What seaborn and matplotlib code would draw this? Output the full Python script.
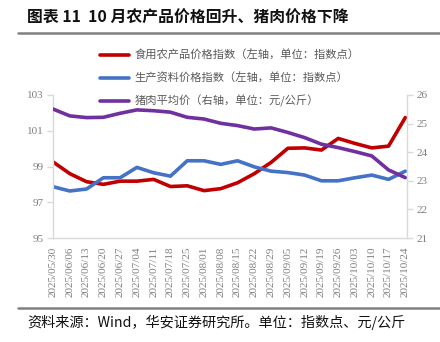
import matplotlib
matplotlib.use("Agg")
import matplotlib.pyplot as plt
from matplotlib.lines import Line2D
import seaborn as sns
import pandas as pd

dates = ["2025/05/30", "2025/06/06", "2025/06/13", "2025/06/20", "2025/06/27", "2025/07/04",
         "2025/07/11", "2025/07/18", "2025/07/25", "2025/08/01", "2025/08/08", "2025/08/15",
         "2025/08/22", "2025/08/29", "2025/09/05", "2025/09/12", "2025/09/19", "2025/09/26",
         "2025/10/03", "2025/10/10", "2025/10/17", "2025/10/24"]
food = [99.26, 98.6, 98.15, 98.0, 98.18, 98.18, 98.28, 97.88, 97.92, 97.65, 97.76, 98.09,
        98.6, 99.23, 100.02, 100.04, 99.92, 100.57, 100.29, 100.04, 100.14, 101.74]
means = [97.87, 97.63, 97.74, 98.37, 98.37, 98.95, 98.65, 98.46, 99.32, 99.32, 99.12, 99.32,
         98.98, 98.74, 98.66, 98.52, 98.2, 98.2, 98.37, 98.52, 98.28, 98.74]
pork = [25.51, 25.27, 25.21, 25.22, 25.36, 25.48, 25.45, 25.4, 25.22, 25.16, 25.01, 24.93,
        24.81, 24.85, 24.69, 24.51, 24.28, 24.16, 24.02, 23.87, 23.38, 23.11]
labels = ["食用农产品价格指数（左轴，单位：指数点）",
          "生产资料价格指数（左轴，单位：指数点）",
          "猪肉平均价（右轴，单位：元/公斤）"]
left_ticks = [95, 97, 99, 101, 103]
right_ticks = [21, 22, 23, 24, 25, 26]

sns.set_theme(style="white")
plt.rcParams["font.family"] = ["Noto Sans CJK SC", "DejaVu Sans"]

df = pd.DataFrame({"x": range(len(dates)), "food": food, "means": means, "pork": pork})

RED, BLUE, PURPLE = "#C00000", "#4472C4", "#7030A0"
GRID = "#D9D9D9"
TXT = "#7F7F7F"
LW = 2.6

fig = plt.figure(figsize=(4.4, 3.42), dpi=100)
ax = fig.add_axes([53 / 440, 1 - 238 / 342, (407 - 53) / 440, (238 - 95) / 342])
ax2 = ax.twinx()

sns.lineplot(data=df, x="x", y="food", ax=ax, color=RED, linewidth=LW)
sns.lineplot(data=df, x="x", y="means", ax=ax, color=BLUE, linewidth=LW)
sns.lineplot(data=df, x="x", y="pork", ax=ax2, color=PURPLE, linewidth=LW)

ax.set_xlim(0, len(dates) - 1 + 0.1)
ax.set_ylim(95, 103)
ax2.set_ylim(21, 26)
ax.set_yticks(left_ticks)
ax2.set_yticks(right_ticks)
ax.set_xticks(range(len(dates)))
ax.set_xticklabels(dates, rotation=90)
ax.set_xlabel("")
ax.set_ylabel("")
ax2.set_ylabel("")

serif = ["Liberation Serif", "DejaVu Serif"]
for a in (ax, ax2):
    for sp in a.spines.values():
        sp.set_color(GRID)
        sp.set_linewidth(1.0)
    a.spines["top"].set_visible(False)
    a.tick_params(axis="both", colors=GRID, labelcolor=TXT, length=4, width=1, labelsize=8)
    for lab in a.get_xticklabels() + a.get_yticklabels():
        lab.set_family(serif)
ax.spines["right"].set_visible(False)
ax2.spines["left"].set_visible(False)
ax2.spines["bottom"].set_visible(False)
ax.tick_params(axis="x", labelsize=8, pad=2)
ax.tick_params(axis="y", pad=3)
ax2.tick_params(axis="y", pad=3)
ax.grid(False)
ax2.grid(False)

handles = [Line2D([], [], color=c, linewidth=LW) for c in (RED, BLUE, PURPLE)]
fig.legend(handles, labels, loc="upper left", bbox_to_anchor=(100 / 440, 1 - 50 / 342),
           frameon=False, fontsize=8.1, handlelength=2.6, handletextpad=0.5,
           labelspacing=1.02, borderpad=0, borderaxespad=0, labelcolor="#595959")

fig.text(27 / 440, 1 - 18 / 342, "图表 11  10 月农产品价格回升、猪肉价格下降",
         fontsize=11.4, fontweight="bold", color="#111111", va="center", ha="left")
fig.add_artist(Line2D([18 / 440, 1], [1 - 32.5 / 342] * 2, color="#808080", linewidth=1.8))
fig.add_artist(Line2D([18 / 440, 1], [1 - 307.5 / 342] * 2, color="#808080", linewidth=1.8))
fig.text(27 / 440, 1 - 322 / 342, "资料来源：Wind，华安证券研究所。单位：指数点、元/公斤",
         fontsize=10.2, color="#111111", va="center", ha="left")

fig.savefig("out.png", dpi=100)
